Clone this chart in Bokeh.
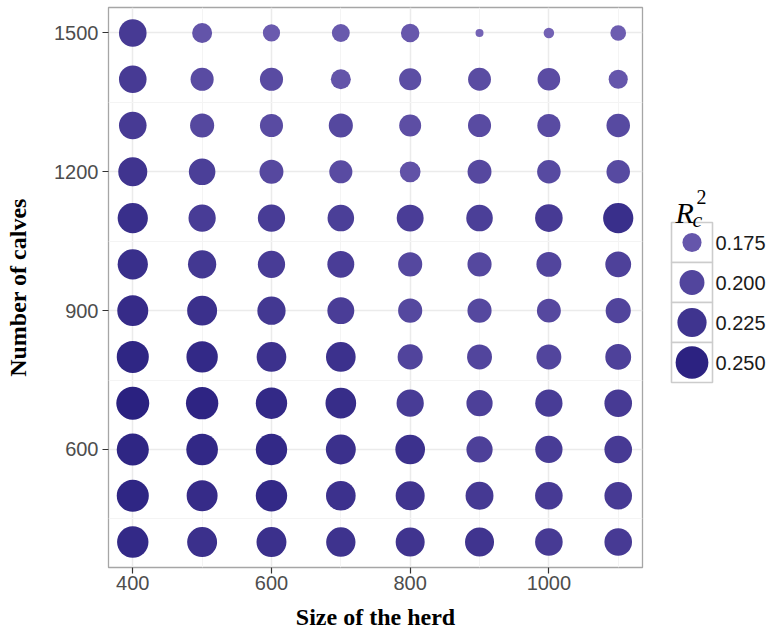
import numpy as np
from bokeh.plotting import figure
from bokeh.models import Range1d, FixedTicker, ColumnDataSource
from bokeh.layouts import row
from bokeh.embed import file_html
from bokeh.resources import INLINE
from bokeh.core.properties import value

# ---- data ----
herd_sizes = [400, 500, 600, 700, 800, 900, 1000, 1100]
calves_levels = [1500, 1400, 1300, 1200, 1100, 1000, 900, 800, 700, 600, 500, 400]

r2_calves_1500 = [0.215, 0.178, 0.169, 0.171, 0.173, 0.156, 0.157, 0.165]
r2_calves_1400 = [0.215, 0.191, 0.191, 0.178, 0.187, 0.190, 0.189, 0.175]
r2_calves_1300 = [0.215, 0.196, 0.191, 0.196, 0.186, 0.191, 0.191, 0.193]
r2_calves_1200 = [0.224, 0.209, 0.195, 0.191, 0.181, 0.195, 0.193, 0.193]
r2_calves_1100 = [0.232, 0.213, 0.213, 0.209, 0.211, 0.209, 0.215, 0.232]
r2_calves_1000 = [0.232, 0.219, 0.213, 0.211, 0.196, 0.196, 0.200, 0.205]
r2_calves_900 = [0.237, 0.230, 0.219, 0.211, 0.196, 0.196, 0.195, 0.201]
r2_calves_800 = [0.245, 0.240, 0.228, 0.228, 0.201, 0.200, 0.200, 0.205]
r2_calves_700 = [0.252, 0.247, 0.240, 0.235, 0.213, 0.207, 0.213, 0.215]
r2_calves_600 = [0.245, 0.242, 0.240, 0.230, 0.228, 0.207, 0.213, 0.215]
r2_calves_500 = [0.245, 0.237, 0.240, 0.228, 0.224, 0.217, 0.215, 0.215]
r2_calves_400 = [0.240, 0.230, 0.230, 0.226, 0.224, 0.224, 0.215, 0.215]

r2_rows = [r2_calves_1500, r2_calves_1400, r2_calves_1300, r2_calves_1200,
           r2_calves_1100, r2_calves_1000, r2_calves_900, r2_calves_800,
           r2_calves_700, r2_calves_600, r2_calves_500, r2_calves_400]

x_ticks = [400, 600, 800, 1000]
y_ticks = [600, 900, 1200, 1500]
legend_values = [0.175, 0.200, 0.225, 0.250]
legend_labels = ["0.175", "0.200", "0.225", "0.250"]

# ---- scales (size by area, colour gradient) ----
xs, ys, vs = [], [], []
for cal, r in zip(calves_levels, r2_rows):
    for h, v in zip(herd_sizes, r):
        xs.append(h); ys.append(cal); vs.append(v)
vs = np.array(vs)
VMIN, VMAX = vs.min(), vs.max()
DMIN, DMAX = 8.0, 33.0
LOW = np.array([0x74, 0x63, 0xB5], dtype=float)
HIGH = np.array([0x2A, 0x21, 0x80], dtype=float)


def diam(v):
    t = np.clip((np.asarray(v, dtype=float) - VMIN) / (VMAX - VMIN), 0, 1)
    return DMIN + (DMAX - DMIN) * np.sqrt(t)


def col(v):
    t = np.clip((np.asarray(v, dtype=float) - VMIN) / (VMAX - VMIN), 0, 1)
    out = []
    for tt in np.atleast_1d(t):
        c = LOW + (HIGH - LOW) * tt
        out.append("#%02x%02x%02x" % tuple(int(round(k)) for k in c))
    return out


src = ColumnDataSource(dict(x=xs, y=ys, size=list(diam(vs)), color=col(vs)))

# ---- main panel ----
p = figure(width=648, height=635, x_range=Range1d(365, 1135), y_range=Range1d(345, 1555),
           min_border_left=108, min_border_right=6, min_border_top=7, min_border_bottom=68,
           toolbar_location=None, output_backend="svg",
           x_axis_label="Size of the herd", y_axis_label="Number of calves")

xt = FixedTicker(ticks=x_ticks, minor_ticks=[500, 700, 900, 1100])
yt = FixedTicker(ticks=y_ticks, minor_ticks=[450, 750, 1050, 1350])
p.xaxis.ticker = xt
p.yaxis.ticker = yt
p.xgrid.ticker = xt
p.ygrid.ticker = yt

p.grid.grid_line_color = "#ebebeb"
p.grid.grid_line_width = 1.5
p.grid.minor_grid_line_color = "#f4f4f4"
p.grid.minor_grid_line_width = 1

p.outline_line_color = "#a6a6a6"
p.outline_line_width = 1.3

p.axis.axis_line_color = None
p.axis.major_tick_line_color = "#333333"
p.axis.major_tick_line_width = 1.2
p.axis.major_tick_out = 6
p.axis.major_tick_in = 0
p.axis.minor_tick_line_color = None
p.axis.major_label_text_font = "Liberation Sans"
p.axis.major_label_text_font_size = "20px"
p.axis.major_label_text_color = "#4d4d4d"
p.axis.axis_label_text_font = "Liberation Serif"
p.axis.axis_label_text_font_style = "bold"
p.axis.axis_label_text_font_size = "24px"
p.axis.axis_label_text_color = "#000000"
p.xaxis.major_label_standoff = 2
p.yaxis.major_label_standoff = 4
p.xaxis.axis_label_standoff = 11
p.yaxis.axis_label_standoff = 20

p.scatter("x", "y", size="size", fill_color="color", line_color=None, source=src)

# ---- legend panel (data units = page pixels) ----
lg = figure(width=124, height=635, x_range=Range1d(648, 772), y_range=Range1d(567, 7),
            min_border_left=0, min_border_right=0, min_border_top=7, min_border_bottom=68,
            toolbar_location=None, output_backend="svg",
            x_axis_location=None, y_axis_location=None)
lg.grid.visible = False
lg.outline_line_color = None

key_tops = [222, 262, 302, 342]
lg.quad(left=671, right=712, top=key_tops, bottom=[t + 40 for t in key_tops],
        fill_color="white", line_color="#cccccc", line_width=1.6)
lg.scatter(x=[691.5] * 4, y=[t + 20 for t in key_tops], size=list(diam(legend_values)),
           fill_color=col(legend_values), line_color=None)
lg.text(x=[715] * 4, y=[t + 20 for t in key_tops], text=legend_labels,
        text_baseline="middle", text_align="left", text_font=value("Liberation Sans"),
        text_font_size="20px", text_color="#1a1a1a")
lg.text(x=[675], y=[212], text=["R"], text_baseline="alphabetic",
        text_font=value("Liberation Serif"), text_font_style="italic",
        text_font_size="30px", text_color="#000000")
lg.text(x=[692], y=[219], text=["c"], text_baseline="alphabetic",
        text_font=value("Liberation Serif"), text_font_style="italic",
        text_font_size="22px", text_color="#000000")
lg.text(x=[696], y=[196], text=["2"], text_baseline="alphabetic",
        text_font=value("Liberation Serif"),
        text_font_size="20px", text_color="#000000")

layout = row(p, lg)
open("out.html", "w").write(file_html(layout, INLINE))
